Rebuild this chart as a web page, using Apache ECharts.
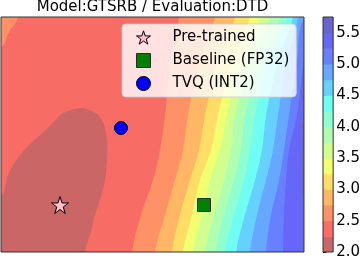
<!DOCTYPE html>
<html><head><meta charset="utf-8">
<script src="https://cdn.jsdelivr.net/npm/echarts@6/dist/echarts.min.js"></script>
<style>html,body{margin:0;padding:0;background:#fff}#c{width:363px;height:261px}</style>
</head><body><div id="c"></div>
<script>
// contour levels (colorbar) and band colours (jet_r, alpha 0.6 over white)
const levels = [2.0, 2.25, 2.5, 2.75, 3.0, 3.25, 3.5, 3.75, 4.0, 4.25, 4.5, 4.75, 5.0, 5.25, 5.5, 5.75];
const bandColors = ['#ca6666', '#f86c66', '#ff9166', '#ffb766', '#ffdd66', '#f2ff6e', '#d1ff8f', '#b0ffb0',
                    '#8fffd1', '#6efff2', '#66d1ff', '#66a8ff', '#6680ff', '#6666f8', '#6666ca'];
const colorbarTicks = [2.0, 2.5, 3.0, 3.5, 4.0, 4.5, 5.0, 5.5];

// plane coordinates (hidden axes)
const xExtent = [-0.59, 2.44];
const yExtent = [-0.47, 1.88];

// iso-lines of the loss surface: x positions at these y values (value rises to the right)
const isoY = [1.88, 1.45, 0.90, 0.55, 0.25, -0.10, -0.47];
const iso2_50 = [1.19, 1.11, 1.05, 1.00, 0.93, 0.81, 0.72];
const iso2_75 = [1.55, 1.40, 1.28, 1.23, 1.15, 1.05, 0.95];
const iso3_00 = [1.75, 1.58, 1.45, 1.39, 1.30, 1.20, 1.12];
const iso3_25 = [1.90, 1.72, 1.58, 1.51, 1.40, 1.32, 1.23];
const iso3_50 = [2.00, 1.82, 1.67, 1.60, 1.50, 1.42, 1.33];
const iso3_75 = [2.10, 1.91, 1.75, 1.71, 1.64, 1.54, 1.45];
const iso4_00 = [2.20, 2.01, 1.85, 1.81, 1.74, 1.64, 1.56];
const iso4_25 = [2.27, 2.08, 1.95, 1.90, 1.84, 1.74, 1.65];
const iso4_50 = [2.33, 2.18, 2.06, 2.02, 1.95, 1.85, 1.76];
const iso4_75 = [2.38, 2.27, 2.18, 2.13, 2.06, 1.97, 1.90];
const iso5_00 = [2.45, 2.37, 2.29, 2.24, 2.19, 2.11, 2.06];
const iso5_25 = [2.52, 2.44, 2.37, 2.29, 2.26, 2.24, 2.23];

// low basin (< 2.25), from left edge to bottom edge
const basin2_25 = [[-0.59, 0.09], [-0.52, 0.30], [-0.40, 0.50], [-0.22, 0.68], [-0.10, 0.79], [0.02, 0.91],
  [0.20, 0.97], [0.32, 0.94], [0.40, 0.88], [0.45, 0.77], [0.47, 0.65], [0.47, 0.45], [0.45, 0.25],
  [0.40, 0.05], [0.35, -0.10], [0.30, -0.30], [0.25, -0.47]];
// top-left corner patch (>= 2.5)
const corner2_50 = [[-0.42, 1.88], [-0.51, 1.73], [-0.59, 1.58]];
// thin patch at right edge (>= 5.5)
const edge5_50 = [[2.44, 0.85], [2.425, 0.70], [2.42, 0.45], [2.425, 0.20], [2.44, 0.05]];

// markers
const pretrained = [[0.00, 0.00]];
const baseline = [[1.44, 0.00]];
const tvq = [[0.61, 0.77]];

const isoLines = [[2.5, iso2_50], [2.75, iso2_75], [3.0, iso3_00], [3.25, iso3_25], [3.5, iso3_50],
  [3.75, iso3_75], [4.0, iso4_00], [4.25, iso4_25], [4.5, iso4_50], [4.75, iso4_75], [5.0, iso5_00], [5.25, iso5_25]];
const band = lv => bandColors[levels.indexOf(lv)];

const regions = [{ kind: 'base', color: bandColors[1] },
  { kind: 'bottomLeft', color: bandColors[0], points: basin2_25 },
  { kind: 'topLeft', color: band(2.5), points: corner2_50 }];
isoLines.forEach(([lv, xs]) => regions.push({ kind: 'right', color: band(lv), points: xs.map((x, i) => [x, isoY[i]]) }));
regions.push({ kind: 'none', color: band(5.5), points: edge5_50 });

const starPath = 'path://M0,-100L22.45,-30.9L95.1,-30.9L36.3,11.8L58.8,80.9L0,38.2L-58.8,80.9L-36.3,11.8L-95.1,-30.9L-22.45,-30.9Z';
const FONT = 'DejaVu Sans';
const starStyle = { color: '#ffc0cb', borderColor: '#000', borderWidth: 1, opacity: 1 };
const squareStyle = { color: '#008000', borderColor: '#2a2a2a', borderWidth: 1, opacity: 1 };
const circleStyle = { color: '#0000ff', borderColor: '#000', borderWidth: 1, opacity: 1 };

const chart = echarts.init(document.getElementById('c'), null, { renderer: 'canvas' });
chart.setOption({
  animation: false,
  backgroundColor: '#fff',
  title: { text: 'Model:GTSRB / Evaluation:DTD', left: 152.5, top: 0, textAlign: 'center', padding: 0,
    textStyle: { fontFamily: FONT, fontSize: 15, fontWeight: 'normal', color: '#000' } },
  grid: [
    { left: 1, top: 17, width: 303, height: 235, show: true, z: 10, backgroundColor: 'transparent', borderColor: '#333', borderWidth: 1 },
    { left: 323, top: 17, width: 12.5, height: 235, show: true, z: 10, backgroundColor: 'transparent', borderColor: '#333', borderWidth: 1 }
  ],
  xAxis: [
    { gridIndex: 0, type: 'value', min: xExtent[0], max: xExtent[1], show: false },
    { gridIndex: 1, type: 'value', min: 0, max: 1, show: false }
  ],
  yAxis: [
    { gridIndex: 0, type: 'value', min: yExtent[0], max: yExtent[1], show: false },
    { gridIndex: 1, type: 'value', min: 2, max: 5.75, interval: 0.5, position: 'right',
      axisLine: { show: false }, splitLine: { show: false },
      axisTick: { show: true, length: 3.5, lineStyle: { color: '#000', width: 1 }, customValues: colorbarTicks },
      axisLabel: { customValues: colorbarTicks, formatter: v => Number(v).toFixed(1), margin: 3,
        fontFamily: FONT, fontSize: 15, color: '#000' } }
  ],
  legend: {
    data: [
      { name: 'Pre-trained', itemStyle: starStyle },
      { name: 'Baseline (FP32)', itemStyle: squareStyle },
      { name: 'TVQ (INT2)', itemStyle: circleStyle }
    ],
    orient: 'vertical', left: 122, top: 24,
    padding: [6, 7, 6, 14], itemGap: 8, itemWidth: 14, itemHeight: 14,
    backgroundColor: 'rgba(255,255,255,0.8)', borderColor: 'rgba(204,204,204,0.8)', borderWidth: 1, borderRadius: 4,
    textStyle: { fontFamily: FONT, fontSize: 15, color: '#000', padding: [0, 0, 0, 17] },
    z: 20
  },
  series: [
    {
      type: 'custom', xAxisIndex: 0, yAxisIndex: 0, clip: true, silent: true, z: 1,
      data: regions.map((r, i) => [i]),
      renderItem(params, api) {
        const r = regions[params.dataIndex];
        const cs = params.coordSys;
        const L = cs.x, R = cs.x + cs.width, T = cs.y, B = cs.y + cs.height, o = 30;
        if (r.kind === 'base') {
          return { type: 'rect', shape: { x: L, y: T, width: cs.width, height: cs.height }, style: { fill: r.color } };
        }
        const ext = p => {
          const [x, y] = p;
          if (Math.abs(x - L) < 1.5) return [x - o, y];
          if (Math.abs(x - R) < 1.5) return [x + o, y];
          if (Math.abs(y - T) < 1.5) return [x, y - o];
          return [x, y + o];
        };
        const px = r.points.map(p => api.coord(p));
        const pts = [ext(px[0])].concat(px, [ext(px[px.length - 1])]);
        if (r.kind === 'right') pts.push([R + o, B + o], [R + o, T - o]);
        else if (r.kind === 'bottomLeft') pts.push([L - o, B + o]);
        else if (r.kind === 'topLeft') pts.push([L - o, T - o]);
        return { type: 'polygon', shape: { points: pts, smooth: 0.35 }, style: { fill: r.color } };
      }
    },
    {
      type: 'custom', xAxisIndex: 1, yAxisIndex: 1, clip: true, silent: true,
      data: bandColors.map((c, k) => [levels[k], levels[k + 1]]),
      renderItem(params, api) {
        const lo = api.value(0), hi = api.value(1);
        const p0 = api.coord([0, lo]), p1 = api.coord([1, hi]);
        return { type: 'rect', shape: { x: p0[0], y: p1[1], width: p1[0] - p0[0], height: p0[1] - p1[1] + 0.5 },
          style: { fill: bandColors[params.dataIndex] } };
      }
    },
    { name: 'Pre-trained', type: 'scatter', xAxisIndex: 0, yAxisIndex: 0, data: pretrained, symbol: starPath, symbolSize: 17, z: 5,
      itemStyle: starStyle },
    { name: 'Baseline (FP32)', type: 'scatter', xAxisIndex: 0, yAxisIndex: 0, data: baseline, symbol: 'rect', symbolSize: 13, z: 5,
      itemStyle: squareStyle },
    { name: 'TVQ (INT2)', type: 'scatter', xAxisIndex: 0, yAxisIndex: 0, data: tvq, symbol: 'circle', symbolSize: 13, z: 5,
      itemStyle: circleStyle }
  ]
});
</script></body></html>
